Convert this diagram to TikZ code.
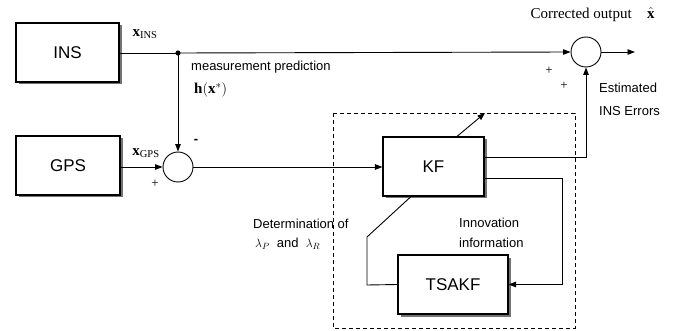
\documentclass[tikz,border=0pt]{standalone}
\usepackage{fontspec}
\setmainfont{Liberation Sans}
\newfontfamily\tms{Liberation Serif}
\setmathrm{Liberation Serif}
\usetikzlibrary{arrows.meta,shadows}
\begin{document}
\begin{tikzpicture}[x=1pt,y=-1pt,
  blk/.style={draw,line width=1.1pt,fill=white,inner sep=0pt,
    drop shadow={shadow xshift=2.5pt,shadow yshift=-2.5pt,fill=black!55,opacity=1},
    font=\fontsize{17}{20}\selectfont},
  sumc/.style={draw,line width=0.9pt,circle,minimum size=30pt,inner sep=0pt,fill=white},
  con/.style={line width=0.9pt},
  arr/.style={con,-{Triangle[length=7.5pt,width=5.5pt]}},
  lbl/.style={font=\fontsize{13}{15}\selectfont,inner sep=0pt},
  sgn/.style={font=\tms\fontsize{13}{15}\selectfont,inner sep=0pt},
  mth/.style={font=\fontsize{15}{18}\selectfont,inner sep=0pt}]
\useasboundingbox (0,0) rectangle (677,331);
\fill[white] (0,0) rectangle (677,331);
% dashed box
\draw[con,dashed,dash pattern=on 4pt off 3pt] (333,113) rectangle (575,328);
% blocks
\node[blk,minimum width=103pt,minimum height=59pt] (ins) at (67.5,52.5) {INS};
\node[blk,minimum width=104pt,minimum height=59pt] (gps) at (68,165.5) {GPS};
\node[blk,minimum width=101pt,minimum height=59pt] (kf) at (433.5,166.5) {KF};
\node[blk,minimum width=110pt,minimum height=59pt] (ts) at (453,284.5) {TSAKF};
\node[sumc] (s1) at (178,167) {};
\node[sumc] (s2) at (586,52) {};
\fill (178,53) circle (2.6pt) coordinate (dot);
\coordinate (outend) at (635,52);
\coordinate (kfout) at (485,113);
\coordinate (fb1) at (367,285);
\coordinate (fb2) at (367,237);
\coordinate (ip) at (562,178);
% connectors
\draw[con] (ins.east |- dot) -- (dot);
\draw[arr] (dot) -- (s2.west);
\draw[arr] (s2.east) -- (outend);
\draw[arr] (dot) -- (s1.north);
\draw[arr] (gps.east |- s1) -- (s1.west);
\draw[arr] (s1.east) -- (kf.west |- s1);
\draw[arr] (kf.north -| 457,0) -- (kfout);
\draw[arr] (kf.east |- 0,157) -| (s2.south);
\draw[arr] (kf.east |- ip) -- (ip) |- (ts.east);
\draw[con] (ts.west) -- (fb1) -- (fb2) -- (kf.south -| 411,0);
% labels
\node[mth] (lxins) at (145,34) {$\mathbf{x}_{\mathrm{INS}}$};
\node[mth] (lxgps) at (146,153) {$\mathbf{x}_{\mathrm{GPS}}$};
\node[lbl,font=\bfseries\fontsize{13}{15}\selectfont] (lminus) at (196,141) {-};
\node[sgn] (lp1) at (155,184) {+};
\node[lbl,anchor=west] (lmp) at (191,67) {measurement prediction};
\node[mth,anchor=west] (lh) at (194,90) {$\mathbf{h}(\mathbf{x}^{*})$};
\node[anchor=east,inner sep=0pt,font=\tms\fontsize{15}{18}\selectfont] (lco) at (632,15) {Corrected output};
\node[mth,anchor=west] (lxhat) at (647,13) {$\hat{\mathbf{x}}$};
\node[sgn] (lp2) at (549,71) {+};
\node[sgn] (lp3) at (564,86) {+};
\node[lbl,anchor=west] (lest) at (599,88) {Estimated};
\node[lbl,anchor=west] (lerr) at (599,111) {INS Errors};
\node[lbl,anchor=west] (ldet) at (253,224) {Determination of};
\node[lbl,anchor=west] (llam) at (255,244) {$\lambda_P$\ \ and\ \ $\lambda_R$};
\node[lbl,anchor=west] (linn) at (459,223) {Innovation};
\node[lbl,anchor=west] (linf) at (459,243) {information};
\end{tikzpicture}
\end{document}
